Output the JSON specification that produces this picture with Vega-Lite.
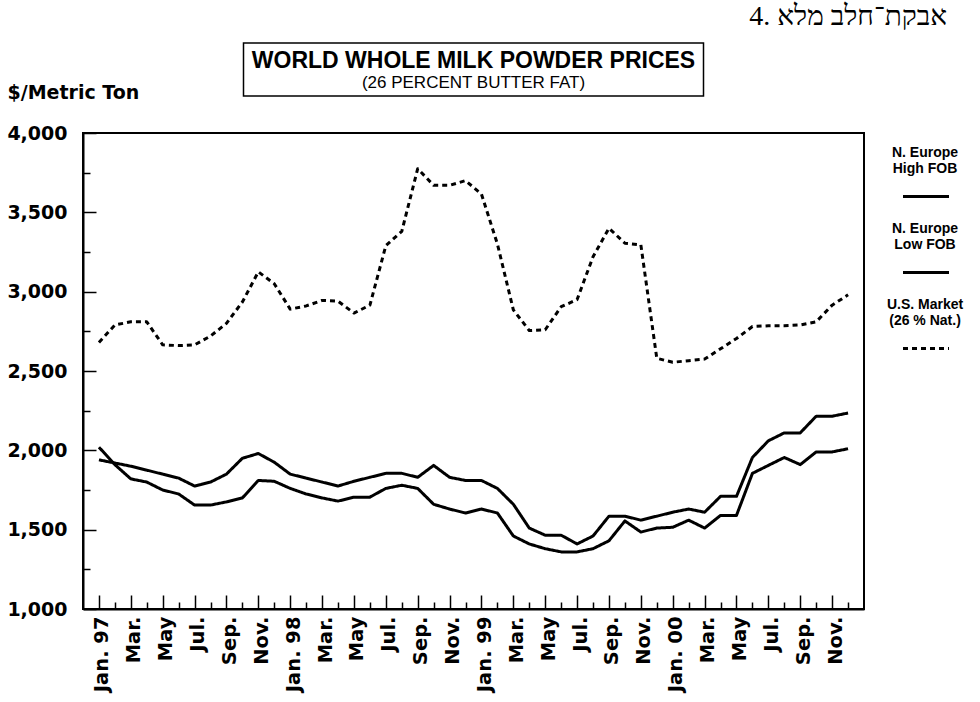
{
  "$schema": "https://vega.github.io/schema/vega-lite/v6.json",
  "background": "white",
  "padding": {"left": 5, "top": 3, "right": 5, "bottom": 2},
  "title": {"text": "4. אבקת־חלב מלא", "anchor": "end", "font": "Liberation Serif", "fontSize": 28, "fontWeight": "normal", "color": "black", "offset": 11, "dx": -18},
  "bounds": "flush",
  "center": true,
  "spacing": 37,
  "resolve": {"legend": {"strokeDash": "independent", "strokeWidth": "independent"}},
  "config": {
    "view": {"stroke": "black"},
    "axis": {"domainColor": "black", "domainWidth": 2, "tickColor": "black", "tickWidth": 1.5, "labelColor": "black", "grid": false, "titleColor": "black"},
    "legend": {
      "orient": "right", "offset": 49, "padding": 0,
      "symbolType": "M-2,4.4H2", "symbolSize": 529, "symbolStrokeColor": "black",
      "labelFont": "Liberation Sans", "labelFontWeight": "bold", "labelFontSize": 14, "labelColor": "black",
      "labelAlign": "center", "labelBaseline": "top", "labelOffset": -14, "labelLimit": 0,
      "rowPadding": 6
    }
  },
  "datasets": {
    "header": [
      {"line": "WORLD WHOLE MILK POWDER PRICES", "row": "title"},
      {"line": "(26 PERCENT BUTTER FAT)", "row": "subtitle"}
    ],
    "prices": [
      {"month": "1997-01", "series": "N. Europe High FOB", "price": 1940},
      {"month": "1997-02", "series": "N. Europe High FOB", "price": 1920},
      {"month": "1997-03", "series": "N. Europe High FOB", "price": 1900},
      {"month": "1997-04", "series": "N. Europe High FOB", "price": 1875},
      {"month": "1997-05", "series": "N. Europe High FOB", "price": 1850},
      {"month": "1997-06", "series": "N. Europe High FOB", "price": 1825},
      {"month": "1997-07", "series": "N. Europe High FOB", "price": 1775},
      {"month": "1997-08", "series": "N. Europe High FOB", "price": 1800},
      {"month": "1997-09", "series": "N. Europe High FOB", "price": 1850},
      {"month": "1997-10", "series": "N. Europe High FOB", "price": 1950},
      {"month": "1997-11", "series": "N. Europe High FOB", "price": 1980},
      {"month": "1997-12", "series": "N. Europe High FOB", "price": 1925},
      {"month": "1998-01", "series": "N. Europe High FOB", "price": 1850},
      {"month": "1998-02", "series": "N. Europe High FOB", "price": 1825},
      {"month": "1998-03", "series": "N. Europe High FOB", "price": 1800},
      {"month": "1998-04", "series": "N. Europe High FOB", "price": 1775},
      {"month": "1998-05", "series": "N. Europe High FOB", "price": 1805},
      {"month": "1998-06", "series": "N. Europe High FOB", "price": 1830},
      {"month": "1998-07", "series": "N. Europe High FOB", "price": 1855},
      {"month": "1998-08", "series": "N. Europe High FOB", "price": 1855},
      {"month": "1998-09", "series": "N. Europe High FOB", "price": 1830},
      {"month": "1998-10", "series": "N. Europe High FOB", "price": 1905},
      {"month": "1998-11", "series": "N. Europe High FOB", "price": 1830},
      {"month": "1998-12", "series": "N. Europe High FOB", "price": 1810},
      {"month": "1999-01", "series": "N. Europe High FOB", "price": 1810},
      {"month": "1999-02", "series": "N. Europe High FOB", "price": 1760},
      {"month": "1999-03", "series": "N. Europe High FOB", "price": 1660},
      {"month": "1999-04", "series": "N. Europe High FOB", "price": 1510},
      {"month": "1999-05", "series": "N. Europe High FOB", "price": 1465},
      {"month": "1999-06", "series": "N. Europe High FOB", "price": 1465},
      {"month": "1999-07", "series": "N. Europe High FOB", "price": 1410},
      {"month": "1999-08", "series": "N. Europe High FOB", "price": 1460},
      {"month": "1999-09", "series": "N. Europe High FOB", "price": 1585},
      {"month": "1999-10", "series": "N. Europe High FOB", "price": 1585},
      {"month": "1999-11", "series": "N. Europe High FOB", "price": 1560},
      {"month": "1999-12", "series": "N. Europe High FOB", "price": 1585},
      {"month": "2000-01", "series": "N. Europe High FOB", "price": 1610},
      {"month": "2000-02", "series": "N. Europe High FOB", "price": 1630},
      {"month": "2000-03", "series": "N. Europe High FOB", "price": 1610},
      {"month": "2000-04", "series": "N. Europe High FOB", "price": 1710},
      {"month": "2000-05", "series": "N. Europe High FOB", "price": 1710},
      {"month": "2000-06", "series": "N. Europe High FOB", "price": 1955},
      {"month": "2000-07", "series": "N. Europe High FOB", "price": 2060},
      {"month": "2000-08", "series": "N. Europe High FOB", "price": 2110},
      {"month": "2000-09", "series": "N. Europe High FOB", "price": 2110},
      {"month": "2000-10", "series": "N. Europe High FOB", "price": 2215},
      {"month": "2000-11", "series": "N. Europe High FOB", "price": 2215},
      {"month": "2000-12", "series": "N. Europe High FOB", "price": 2235},
      {"month": "1997-01", "series": "N. Europe Low FOB", "price": 2020},
      {"month": "1997-02", "series": "N. Europe Low FOB", "price": 1910},
      {"month": "1997-03", "series": "N. Europe Low FOB", "price": 1820},
      {"month": "1997-04", "series": "N. Europe Low FOB", "price": 1800},
      {"month": "1997-05", "series": "N. Europe Low FOB", "price": 1750},
      {"month": "1997-06", "series": "N. Europe Low FOB", "price": 1725},
      {"month": "1997-07", "series": "N. Europe Low FOB", "price": 1655},
      {"month": "1997-08", "series": "N. Europe Low FOB", "price": 1655},
      {"month": "1997-09", "series": "N. Europe Low FOB", "price": 1675},
      {"month": "1997-10", "series": "N. Europe Low FOB", "price": 1700},
      {"month": "1997-11", "series": "N. Europe Low FOB", "price": 1810},
      {"month": "1997-12", "series": "N. Europe Low FOB", "price": 1805},
      {"month": "1998-01", "series": "N. Europe Low FOB", "price": 1760},
      {"month": "1998-02", "series": "N. Europe Low FOB", "price": 1725},
      {"month": "1998-03", "series": "N. Europe Low FOB", "price": 1700},
      {"month": "1998-04", "series": "N. Europe Low FOB", "price": 1680},
      {"month": "1998-05", "series": "N. Europe Low FOB", "price": 1705},
      {"month": "1998-06", "series": "N. Europe Low FOB", "price": 1705},
      {"month": "1998-07", "series": "N. Europe Low FOB", "price": 1760},
      {"month": "1998-08", "series": "N. Europe Low FOB", "price": 1780},
      {"month": "1998-09", "series": "N. Europe Low FOB", "price": 1760},
      {"month": "1998-10", "series": "N. Europe Low FOB", "price": 1660},
      {"month": "1998-11", "series": "N. Europe Low FOB", "price": 1630},
      {"month": "1998-12", "series": "N. Europe Low FOB", "price": 1605},
      {"month": "1999-01", "series": "N. Europe Low FOB", "price": 1630},
      {"month": "1999-02", "series": "N. Europe Low FOB", "price": 1605},
      {"month": "1999-03", "series": "N. Europe Low FOB", "price": 1460},
      {"month": "1999-04", "series": "N. Europe Low FOB", "price": 1410},
      {"month": "1999-05", "series": "N. Europe Low FOB", "price": 1380},
      {"month": "1999-06", "series": "N. Europe Low FOB", "price": 1360},
      {"month": "1999-07", "series": "N. Europe Low FOB", "price": 1360},
      {"month": "1999-08", "series": "N. Europe Low FOB", "price": 1380},
      {"month": "1999-09", "series": "N. Europe Low FOB", "price": 1430},
      {"month": "1999-10", "series": "N. Europe Low FOB", "price": 1555},
      {"month": "1999-11", "series": "N. Europe Low FOB", "price": 1485},
      {"month": "1999-12", "series": "N. Europe Low FOB", "price": 1510},
      {"month": "2000-01", "series": "N. Europe Low FOB", "price": 1515},
      {"month": "2000-02", "series": "N. Europe Low FOB", "price": 1560},
      {"month": "2000-03", "series": "N. Europe Low FOB", "price": 1510},
      {"month": "2000-04", "series": "N. Europe Low FOB", "price": 1590},
      {"month": "2000-05", "series": "N. Europe Low FOB", "price": 1590},
      {"month": "2000-06", "series": "N. Europe Low FOB", "price": 1855},
      {"month": "2000-07", "series": "N. Europe Low FOB", "price": 1905},
      {"month": "2000-08", "series": "N. Europe Low FOB", "price": 1955},
      {"month": "2000-09", "series": "N. Europe Low FOB", "price": 1910},
      {"month": "2000-10", "series": "N. Europe Low FOB", "price": 1990},
      {"month": "2000-11", "series": "N. Europe Low FOB", "price": 1990},
      {"month": "2000-12", "series": "N. Europe Low FOB", "price": 2010},
      {"month": "1997-01", "series": "U.S. Market (26 % Nat.)", "price": 2680},
      {"month": "1997-02", "series": "U.S. Market (26 % Nat.)", "price": 2790},
      {"month": "1997-03", "series": "U.S. Market (26 % Nat.)", "price": 2810},
      {"month": "1997-04", "series": "U.S. Market (26 % Nat.)", "price": 2810},
      {"month": "1997-05", "series": "U.S. Market (26 % Nat.)", "price": 2665},
      {"month": "1997-06", "series": "U.S. Market (26 % Nat.)", "price": 2660},
      {"month": "1997-07", "series": "U.S. Market (26 % Nat.)", "price": 2665},
      {"month": "1997-08", "series": "U.S. Market (26 % Nat.)", "price": 2720},
      {"month": "1997-09", "series": "U.S. Market (26 % Nat.)", "price": 2800},
      {"month": "1997-10", "series": "U.S. Market (26 % Nat.)", "price": 2935},
      {"month": "1997-11", "series": "U.S. Market (26 % Nat.)", "price": 3125},
      {"month": "1997-12", "series": "U.S. Market (26 % Nat.)", "price": 3050},
      {"month": "1998-01", "series": "U.S. Market (26 % Nat.)", "price": 2890},
      {"month": "1998-02", "series": "U.S. Market (26 % Nat.)", "price": 2910},
      {"month": "1998-03", "series": "U.S. Market (26 % Nat.)", "price": 2945},
      {"month": "1998-04", "series": "U.S. Market (26 % Nat.)", "price": 2940},
      {"month": "1998-05", "series": "U.S. Market (26 % Nat.)", "price": 2865},
      {"month": "1998-06", "series": "U.S. Market (26 % Nat.)", "price": 2915},
      {"month": "1998-07", "series": "U.S. Market (26 % Nat.)", "price": 3290},
      {"month": "1998-08", "series": "U.S. Market (26 % Nat.)", "price": 3380},
      {"month": "1998-09", "series": "U.S. Market (26 % Nat.)", "price": 3775},
      {"month": "1998-10", "series": "U.S. Market (26 % Nat.)", "price": 3670},
      {"month": "1998-11", "series": "U.S. Market (26 % Nat.)", "price": 3670},
      {"month": "1998-12", "series": "U.S. Market (26 % Nat.)", "price": 3700},
      {"month": "1999-01", "series": "U.S. Market (26 % Nat.)", "price": 3615},
      {"month": "1999-02", "series": "U.S. Market (26 % Nat.)", "price": 3300},
      {"month": "1999-03", "series": "U.S. Market (26 % Nat.)", "price": 2885},
      {"month": "1999-04", "series": "U.S. Market (26 % Nat.)", "price": 2755},
      {"month": "1999-05", "series": "U.S. Market (26 % Nat.)", "price": 2760},
      {"month": "1999-06", "series": "U.S. Market (26 % Nat.)", "price": 2905},
      {"month": "1999-07", "series": "U.S. Market (26 % Nat.)", "price": 2950},
      {"month": "1999-08", "series": "U.S. Market (26 % Nat.)", "price": 3220},
      {"month": "1999-09", "series": "U.S. Market (26 % Nat.)", "price": 3400},
      {"month": "1999-10", "series": "U.S. Market (26 % Nat.)", "price": 3305},
      {"month": "1999-11", "series": "U.S. Market (26 % Nat.)", "price": 3295},
      {"month": "1999-12", "series": "U.S. Market (26 % Nat.)", "price": 2580},
      {"month": "2000-01", "series": "U.S. Market (26 % Nat.)", "price": 2555},
      {"month": "2000-02", "series": "U.S. Market (26 % Nat.)", "price": 2565},
      {"month": "2000-03", "series": "U.S. Market (26 % Nat.)", "price": 2575},
      {"month": "2000-04", "series": "U.S. Market (26 % Nat.)", "price": 2640},
      {"month": "2000-05", "series": "U.S. Market (26 % Nat.)", "price": 2705},
      {"month": "2000-06", "series": "U.S. Market (26 % Nat.)", "price": 2780},
      {"month": "2000-07", "series": "U.S. Market (26 % Nat.)", "price": 2785},
      {"month": "2000-08", "series": "U.S. Market (26 % Nat.)", "price": 2785},
      {"month": "2000-09", "series": "U.S. Market (26 % Nat.)", "price": 2790},
      {"month": "2000-10", "series": "U.S. Market (26 % Nat.)", "price": 2810},
      {"month": "2000-11", "series": "U.S. Market (26 % Nat.)", "price": 2915},
      {"month": "2000-12", "series": "U.S. Market (26 % Nat.)", "price": 2980}
    ]
  },
  "vconcat": [
    {
      "width": 460,
      "height": 53,
      "view": {"stroke": "black", "strokeWidth": 1.5},
      "data": {"name": "header"},
      "encoding": {
        "y": {"field": "row", "type": "ordinal", "scale": {"type": "point", "domain": ["title", "subtitle"], "padding": 0.7}, "axis": null},
        "text": {"field": "line"}
      },
      "layer": [
        {
          "transform": [{"filter": "datum.row == 'title'"}],
          "mark": {"type": "text", "font": "Liberation Sans", "fontWeight": "bold", "fontSize": 23, "baseline": "middle", "dy": 3, "color": "black"}
        },
        {
          "transform": [{"filter": "datum.row == 'subtitle'"}],
          "mark": {"type": "text", "font": "Liberation Sans", "fontWeight": "normal", "fontSize": 17, "baseline": "middle", "dy": 2, "color": "black"}
        }
      ]
    },
    {
      "width": 781,
      "height": 476,
      "view": {"stroke": "black", "strokeWidth": 2},
      "data": {"name": "prices"},
      "mark": {"type": "line", "color": "black", "strokeJoin": "round"},
      "encoding": {
        "x": {
          "field": "month", "type": "ordinal",
          "scale": {"type": "point", "padding": 1.27},
          "axis": {
            "title": null,
            "labelExpr": "slice(datum.value,5)=='01' ? 'Jan. ' + slice(datum.value,2,4) : slice(datum.value,5)=='03' ? 'Mar.' : slice(datum.value,5)=='05' ? 'May' : slice(datum.value,5)=='07' ? 'Jul.' : slice(datum.value,5)=='09' ? 'Sep.' : slice(datum.value,5)=='11' ? 'Nov.' : ''",
            "labelAngle": 270, "labelAlign": "right", "labelBaseline": "middle",
            "labelFont": "DejaVu Sans", "labelFontWeight": "bold", "labelFontSize": 19.5,
            "labelPadding": 21, "labelOffset": 3, "labelOverlap": false, "labelFlush": false,
            "tickSize": {"condition": {"test": "toNumber(slice(datum.value,5)) % 2 == 1", "value": -14}, "value": -7}
          }
        },
        "y": {
          "field": "price", "type": "quantitative",
          "scale": {"domain": [1000, 4000], "nice": false, "zero": false},
          "axis": {
            "title": "$/Metric Ton", "titleAngle": 0, "titleAlign": "left", "titleBaseline": "middle",
            "titleX": -76, "titleY": -41, "titleFont": "DejaVu Sans", "titleFontWeight": "bold", "titleFontSize": 19,
            "values": [1000, 1250, 1500, 1750, 2000, 2250, 2500, 2750, 3000, 3250, 3500, 3750, 4000],
            "labelExpr": "datum.value % 500 ? '' : format(datum.value, ',')",
            "labelFont": "DejaVu Sans", "labelFontWeight": "bold", "labelFontSize": 19,
            "labelPadding": 29, "labelOverlap": false, "labelFlush": false,
            "tickSize": {"condition": {"test": "datum.value % 500 == 0", "value": -13}, "value": -7}
          }
        },
        "strokeDash": {
          "field": "series", "type": "nominal",
          "scale": {"domain": ["N. Europe High FOB", "N. Europe Low FOB", "U.S. Market (26 % Nat.)"], "range": [[1, 0], [1, 0], [5, 4]]},
          "legend": {"title": null, "labelExpr": "datum.label == 'N. Europe High FOB' ? ['N. Europe', 'High FOB'] : datum.label == 'N. Europe Low FOB' ? ['N. Europe', 'Low FOB'] : ['U.S. Market', '(26 % Nat.)']"}
        },
        "strokeWidth": {
          "field": "series", "type": "nominal",
          "scale": {"domain": ["N. Europe High FOB", "N. Europe Low FOB", "U.S. Market (26 % Nat.)"], "range": [3, 3, 4]},
          "legend": {"title": null, "labelExpr": "datum.label == 'N. Europe High FOB' ? ['N. Europe', 'High FOB'] : datum.label == 'N. Europe Low FOB' ? ['N. Europe', 'Low FOB'] : ['U.S. Market', '(26 % Nat.)']"}
        }
      }
    }
  ]
}
